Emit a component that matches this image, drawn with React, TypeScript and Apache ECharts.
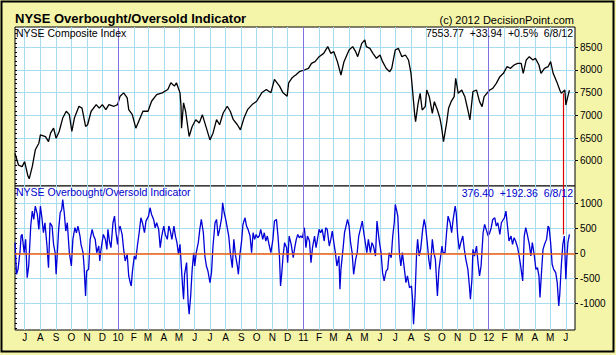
import React, { useEffect, useRef } from "react";
import * as echarts from "echarts";

const priceData: [string, number][] = [
  ["2009-06-12", 6160], ["2009-06-19", 5900], ["2009-06-26", 5870], ["2009-07-01", 5980], ["2009-07-07", 5680],
  ["2009-07-10", 5600], ["2009-07-16", 5870], ["2009-07-22", 6240], ["2009-07-29", 6385], ["2009-08-01", 6570],
  ["2009-08-11", 6530], ["2009-08-17", 6420], ["2009-08-21", 6607], ["2009-08-27", 6718], ["2009-09-01", 6495],
  ["2009-09-07", 6644], ["2009-09-14", 6940], ["2009-09-21", 7090], ["2009-09-27", 7015], ["2009-10-02", 6644],
  ["2009-10-07", 6940], ["2009-10-16", 7200], ["2009-10-22", 7160], ["2009-10-29", 6755], ["2009-11-02", 6792],
  ["2009-11-09", 7090], ["2009-11-19", 7237], ["2009-11-25", 7160], ["2009-12-01", 7237], ["2009-12-08", 7126],
  ["2009-12-14", 7237], ["2009-12-24", 7200], ["2009-12-31", 7237], ["2010-01-05", 7422], ["2010-01-12", 7496],
  ["2010-01-19", 7385], ["2010-01-22", 7126], ["2010-01-29", 7015], ["2010-02-05", 6718], ["2010-02-12", 6904],
  ["2010-02-19", 7090], ["2010-03-01", 7090], ["2010-03-08", 7311], ["2010-03-18", 7459], ["2010-03-29", 7496],
  ["2010-04-09", 7570], ["2010-04-15", 7718], ["2010-04-22", 7644], ["2010-04-26", 7718], ["2010-05-03", 7496],
  ["2010-05-05", 7200], ["2010-05-06", 6718], ["2010-05-10", 7274], ["2010-05-14", 7090], ["2010-05-21", 6533],
  ["2010-05-27", 6755], ["2010-06-03", 6904], ["2010-06-10", 6830], ["2010-06-16", 7015], ["2010-06-24", 6718],
  ["2010-07-01", 6459], ["2010-07-07", 6607], ["2010-07-14", 6904], ["2010-07-20", 6792], ["2010-07-27", 7052],
  ["2010-08-04", 7200], ["2010-08-10", 7090], ["2010-08-16", 6904], ["2010-08-24", 6792], ["2010-08-30", 6681],
  ["2010-09-06", 6940], ["2010-09-13", 7126], ["2010-09-22", 7237], ["2010-10-01", 7311], ["2010-10-11", 7496],
  ["2010-10-20", 7570], ["2010-10-29", 7496], ["2010-11-05", 7793], ["2010-11-15", 7644], ["2010-11-22", 7496],
  ["2010-11-30", 7422], ["2010-12-03", 7718], ["2010-12-10", 7830], ["2010-12-14", 7867], ["2010-12-17", 7890],
  ["2010-12-24", 7963], ["2011-01-03", 8000], ["2011-01-11", 8037], ["2011-01-17", 8147], ["2011-01-24", 8184],
  ["2011-02-01", 8294], ["2011-02-10", 8367], ["2011-02-18", 8515], ["2011-02-24", 8367], ["2011-03-02", 8404],
  ["2011-03-09", 8184], ["2011-03-16", 7890], ["2011-03-22", 8184], ["2011-04-01", 8441], ["2011-04-08", 8515],
  ["2011-04-14", 8404], ["2011-04-18", 8294], ["2011-04-26", 8588], ["2011-05-02", 8661], ["2011-05-05", 8515],
  ["2011-05-12", 8478], ["2011-05-18", 8367], ["2011-05-25", 8257], ["2011-06-01", 8331], ["2011-06-06", 8184],
  ["2011-06-13", 8037], ["2011-06-20", 7963], ["2011-06-24", 8037], ["2011-07-01", 8441], ["2011-07-07", 8478],
  ["2011-07-14", 8294], ["2011-07-21", 8331], ["2011-07-27", 8221], ["2011-08-01", 7926], ["2011-08-04", 7559],
  ["2011-08-08", 7044], ["2011-08-10", 6861], ["2011-08-15", 7265], ["2011-08-19", 7486], ["2011-08-23", 7118],
  ["2011-08-29", 7192], ["2011-09-01", 7559], ["2011-09-06", 7412], ["2011-09-12", 7044], ["2011-09-16", 7302],
  ["2011-09-22", 7118], ["2011-09-27", 6934], ["2011-09-30", 6750], ["2011-10-04", 6420], ["2011-10-10", 6824],
  ["2011-10-14", 7155], ["2011-10-19", 7302], ["2011-10-25", 7412], ["2011-10-28", 7816], ["2011-11-02", 7486],
  ["2011-11-09", 7559], ["2011-11-15", 7412], ["2011-11-21", 7118], ["2011-11-25", 6898], ["2011-12-01", 7522],
  ["2011-12-08", 7559], ["2011-12-14", 7302], ["2011-12-19", 7192], ["2011-12-23", 7412], ["2012-01-03", 7559],
  ["2012-01-09", 7596], ["2012-01-16", 7706], ["2012-01-23", 7853], ["2012-01-30", 7926], ["2012-02-06", 8073],
  ["2012-02-13", 8037], ["2012-02-20", 8110], ["2012-02-27", 8147], ["2012-03-05", 8147], ["2012-03-09", 7926],
  ["2012-03-15", 8221], ["2012-03-21", 8294], ["2012-03-28", 8221], ["2012-04-02", 8257], ["2012-04-09", 8110],
  ["2012-04-13", 7926], ["2012-04-20", 8037], ["2012-04-27", 8073], ["2012-05-02", 8184], ["2012-05-07", 7926],
  ["2012-05-14", 7743], ["2012-05-20", 7559], ["2012-05-23", 7486], ["2012-05-30", 7559], ["2012-06-01", 7228],
  ["2012-06-04", 7375], ["2012-06-08", 7554],
];

const indicatorData: [string, number][] = [
  ["2009-06-12", 212], ["2009-06-15", -417], ["2009-06-18", -318], ["2009-06-22", 46], ["2009-06-24", 344],
  ["2009-06-26", 377], ["2009-06-30", 13], ["2009-07-03", 278], ["2009-07-06", -483], ["2009-07-09", -252],
  ["2009-07-13", 543], ["2009-07-16", 841], ["2009-07-19", 675], ["2009-07-22", 940], ["2009-07-26", 775],
  ["2009-07-29", 477], ["2009-08-01", 940], ["2009-08-04", 708], ["2009-08-07", 410], ["2009-08-10", 609],
  ["2009-08-14", 146], ["2009-08-17", -285], ["2009-08-20", 609], ["2009-08-24", 543], ["2009-08-27", 179],
  ["2009-08-30", 13], ["2009-09-01", -417], ["2009-09-06", 477], ["2009-09-09", 808], ["2009-09-12", 874],
  ["2009-09-14", 1072], ["2009-09-17", 808], ["2009-09-20", 444], ["2009-09-23", 609], ["2009-09-27", 13],
  ["2009-10-01", -252], ["2009-10-04", 278], ["2009-10-08", 510], ["2009-10-11", 410], ["2009-10-14", 543],
  ["2009-10-18", 344], ["2009-10-20", 179], ["2009-10-24", 13], ["2009-10-26", -252], ["2009-10-28", -649],
  ["2009-10-29", -847], ["2009-10-31", -351], ["2009-11-04", -318], ["2009-11-07", 278], ["2009-11-11", 477],
  ["2009-11-14", 344], ["2009-11-17", 278], ["2009-11-20", 13], ["2009-11-24", 146], ["2009-11-26", -152],
  ["2009-11-28", 46], ["2009-11-30", 179], ["2009-12-03", 377], ["2009-12-07", 278], ["2009-12-10", 79],
  ["2009-12-12", 477], ["2009-12-15", 245], ["2009-12-18", 113], ["2009-12-22", 609], ["2009-12-25", 741],
  ["2009-12-28", 410], ["2009-12-31", 179], ["2010-01-03", 477], ["2010-01-05", 543], ["2010-01-09", 377],
  ["2010-01-12", 79], ["2010-01-15", -152], ["2010-01-19", -20], ["2010-01-22", -450], ["2010-01-25", -583],
  ["2010-01-27", -649], ["2010-01-29", -384], ["2010-02-02", -53], ["2010-02-05", -119], ["2010-02-08", 146],
  ["2010-02-12", 444], ["2010-02-15", 708], ["2010-02-18", 609], ["2010-02-22", 410], ["2010-02-25", 642],
  ["2010-03-02", 741], ["2010-03-05", 907], ["2010-03-08", 775], ["2010-03-12", 675], ["2010-03-15", 510],
  ["2010-03-18", 609], ["2010-03-22", 477], ["2010-03-25", 113], ["2010-03-28", 344], ["2010-04-01", 543],
  ["2010-04-04", 377], ["2010-04-08", 278], ["2010-04-11", 543], ["2010-04-14", 444], ["2010-04-17", 278],
  ["2010-04-21", 543], ["2010-04-24", 344], ["2010-04-27", 212], ["2010-04-30", -20], ["2010-05-03", 179],
  ["2010-05-06", -318], ["2010-05-08", -649], ["2010-05-10", -914], ["2010-05-12", -417], ["2010-05-16", -185],
  ["2010-05-19", -980], ["2010-05-21", -1211], ["2010-05-24", -847], ["2010-05-27", -318], ["2010-05-30", 13],
  ["2010-06-01", -252], ["2010-06-04", 13], ["2010-06-08", 212], ["2010-06-11", 477], ["2010-06-14", 675],
  ["2010-06-18", 410], ["2010-06-21", -53], ["2010-06-24", -252], ["2010-06-27", -351], ["2010-07-01", -583],
  ["2010-07-04", -384], ["2010-07-07", 146], ["2010-07-11", 609], ["2010-07-14", 675], ["2010-07-17", 344],
  ["2010-07-20", 477], ["2010-07-24", 708], ["2010-07-26", 1006], ["2010-07-29", 808], ["2010-08-01", 675],
  ["2010-08-04", 510], ["2010-08-07", 344], ["2010-08-10", 13], ["2010-08-14", -285], ["2010-08-17", 278],
  ["2010-08-20", -20], ["2010-08-24", -252], ["2010-08-26", -417], ["2010-08-29", -20], ["2010-09-01", 212],
  ["2010-09-04", 576], ["2010-09-08", 708], ["2010-09-11", 543], ["2010-09-14", 477], ["2010-09-18", 344],
  ["2010-09-21", 13], ["2010-09-24", 410], ["2010-09-27", 278], ["2010-09-30", 377], ["2010-10-03", 311],
  ["2010-10-06", 344], ["2010-10-09", 477], ["2010-10-13", 278], ["2010-10-16", 410], ["2010-10-19", 245],
  ["2010-10-22", 344], ["2010-10-26", 146], ["2010-10-29", 13], ["2010-11-02", 278], ["2010-11-05", 642],
  ["2010-11-09", 675], ["2010-11-12", 344], ["2010-11-15", -86], ["2010-11-17", -649], ["2010-11-19", -450],
  ["2010-11-22", -53], ["2010-11-25", 212], ["2010-11-29", 113], ["2010-12-01", -185], ["2010-12-04", 344],
  ["2010-12-08", 179], ["2010-12-12", -86], ["2010-12-15", 113], ["2010-12-18", 278], ["2010-12-21", 377],
  ["2010-12-24", 311], ["2010-12-27", 344], ["2010-12-30", 311], ["2011-01-03", 510], ["2011-01-06", 113],
  ["2011-01-09", 344], ["2011-01-13", 245], ["2011-01-16", -185], ["2011-01-19", 113], ["2011-01-23", 344],
  ["2011-01-26", 113], ["2011-02-01", 477], ["2011-02-04", 410], ["2011-02-07", 477], ["2011-02-11", 245],
  ["2011-02-14", 510], ["2011-02-17", 477], ["2011-02-21", 146], ["2011-02-24", 278], ["2011-02-27", 444],
  ["2011-03-02", 212], ["2011-03-05", 13], ["2011-03-08", -252], ["2011-03-12", -53], ["2011-03-14", -715],
  ["2011-03-16", -318], ["2011-03-20", 79], ["2011-03-23", 410], ["2011-03-26", 543], ["2011-03-29", 675],
  ["2011-04-01", 543], ["2011-04-04", 212], ["2011-04-07", 13], ["2011-04-10", -417], ["2011-04-14", -119],
  ["2011-04-17", 13], ["2011-04-20", 344], ["2011-04-24", 510], ["2011-04-27", 642], ["2011-04-30", 410],
  ["2011-05-03", 212], ["2011-05-06", 13], ["2011-05-09", 278], ["2011-05-13", 13], ["2011-05-16", 212],
  ["2011-05-19", 146], ["2011-05-23", -53], ["2011-05-26", 642], ["2011-05-30", 278], ["2011-06-03", 13],
  ["2011-06-06", -384], ["2011-06-09", -549], ["2011-06-13", -351], ["2011-06-16", -318], ["2011-06-19", 13],
  ["2011-06-23", -86], ["2011-06-26", 344], ["2011-06-29", 609], ["2011-07-01", 973], ["2011-07-04", 841],
  ["2011-07-06", 741], ["2011-07-09", 13], ["2011-07-12", -252], ["2011-07-15", 13], ["2011-07-19", -318],
  ["2011-07-22", -583], ["2011-07-25", -450], ["2011-07-29", -682], ["2011-08-02", -649], ["2011-08-04", -914],
  ["2011-08-06", -1410], ["2011-08-09", -847], ["2011-08-12", 13], ["2011-08-14", 278], ["2011-08-17", -53],
  ["2011-08-20", 79], ["2011-08-24", 477], ["2011-08-27", 675], ["2011-08-30", 510], ["2011-09-02", 212],
  ["2011-09-05", -119], ["2011-09-08", -318], ["2011-09-12", 278], ["2011-09-15", 13], ["2011-09-18", -119],
  ["2011-09-22", -847], ["2011-09-25", -318], ["2011-09-28", -86], ["2011-10-01", 146], ["2011-10-03", 13],
  ["2011-10-07", 13], ["2011-10-10", 410], ["2011-10-13", 741], ["2011-10-17", 609], ["2011-10-20", 410],
  ["2011-10-23", 675], ["2011-10-27", 940], ["2011-10-29", 808], ["2011-11-01", 344], ["2011-11-04", 79],
  ["2011-11-07", 212], ["2011-11-11", 344], ["2011-11-14", 79], ["2011-11-17", -119], ["2011-11-21", -318],
  ["2011-11-24", -649], ["2011-11-26", -914], ["2011-11-29", -516], ["2011-12-01", 79], ["2011-12-04", -53],
  ["2011-12-08", 146], ["2011-12-11", -185], ["2011-12-14", -450], ["2011-12-17", -252], ["2011-12-21", 410],
  ["2011-12-24", 576], ["2011-12-27", 477], ["2011-12-31", 344], ["2012-01-03", 410], ["2012-01-06", 510],
  ["2012-01-09", 675], ["2012-01-13", 708], ["2012-01-16", 543], ["2012-01-19", 609], ["2012-01-23", 377],
  ["2012-01-26", 609], ["2012-02-01", 708], ["2012-02-04", 841], ["2012-02-07", 543], ["2012-02-10", 245],
  ["2012-02-14", 344], ["2012-02-17", 179], ["2012-02-20", 311], ["2012-02-23", 245], ["2012-02-27", 113],
  ["2012-03-01", -53], ["2012-03-04", -252], ["2012-03-08", -549], ["2012-03-11", 344], ["2012-03-14", 510],
  ["2012-03-17", 377], ["2012-03-21", 179], ["2012-03-24", -53], ["2012-03-27", 212], ["2012-03-31", -53],
  ["2012-04-03", -318], ["2012-04-06", -285], ["2012-04-09", -450], ["2012-04-11", -880], ["2012-04-14", -384],
  ["2012-04-17", 79], ["2012-04-20", 179], ["2012-04-24", 278], ["2012-04-27", 543], ["2012-04-29", 510],
  ["2012-05-02", 212], ["2012-05-05", -218], ["2012-05-08", -318], ["2012-05-12", -384], ["2012-05-15", -583],
  ["2012-05-18", -1046], ["2012-05-20", -814], ["2012-05-23", -252], ["2012-05-26", 179], ["2012-05-29", 344],
  ["2012-06-01", -516], ["2012-06-03", -86], ["2012-06-05", 212], ["2012-06-08", 376],
];

const monthTicks: string[] = [
  "2009-07-01", "2009-08-01", "2009-09-01", "2009-10-01", "2009-11-01", "2009-12-01",
  "2010-01-01", "2010-02-01", "2010-03-01", "2010-04-01", "2010-05-01", "2010-06-01",
  "2010-07-01", "2010-08-01", "2010-09-01", "2010-10-01", "2010-11-01", "2010-12-01",
  "2011-01-01", "2011-02-01", "2011-03-01", "2011-04-01", "2011-05-01", "2011-06-01",
  "2011-07-01", "2011-08-01", "2011-09-01", "2011-10-01", "2011-11-01", "2011-12-01",
  "2012-01-01", "2012-02-01", "2012-03-01", "2012-04-01", "2012-05-01", "2012-06-01",
];
const monthLabels: string[] = [
  "J", "A", "S", "O", "N", "D",
  "10", "F", "M", "A", "M", "J", "J", "A", "S", "O", "N", "D",
  "11", "F", "M", "A", "M", "J", "J", "A", "S", "O", "N", "D",
  "12", "F", "M", "A", "M", "J",
];
const yearStarts: string[] = ["2010-01-01", "2011-01-01", "2012-01-01"];
const priceTicks: number[] = [6000, 6500, 7000, 7500, 8000, 8500];
const indicatorTicks: number[] = [-1000, -500, 0, 500, 1000];

const titleText = "NYSE Overbought/Oversold Indicator";
const copyrightText = "(c) 2012 DecisionPoint.com";
const upperLabel = "NYSE Composite Index";
const upperReadout = "7553.77\u00A0\u00A0+33.94\u00A0\u00A0+0.5%\u00A0\u00A06/8/12";
const lowerLabel = "NYSE Overbought/Oversold Indicator";
const lowerReadout = "376.40\u00A0\u00A0+192.36\u00A0\u00A06/8/12";

const redLineDate = "2012-05-27";
const redLineUpperTop = 7486;
const redLineLowerBottom = 376;

const xMin = "2009-06-12";
const xMax = "2012-06-19";
const priceMin = 5442;
const priceMax = 8948;
const indMin = -1525;
const indMax = 1340;

const FONT = '"Liberation Sans", Arial, sans-serif';
const GRID_BLUE = "#A6DCF0";
const YEAR_PURPLE = "#8070E0";

const ts = (s: string) => new Date(s + "T00:00:00").getTime();

function range(a: number, b: number, step: number): number[] {
  const out: number[] = [];
  for (let v = a; v <= b; v += step) out.push(v);
  return out;
}

export default function App() {
  const ref = useRef<HTMLDivElement>(null);
  useEffect(() => {
    const chart = echarts.init(ref.current!, null, { renderer: "svg" });
    const monthTs = monthTicks.map(ts);
    const fmt = (v: number) => {
      let best = -1;
      let bd = Infinity;
      monthTs.forEach((t, i) => {
        const d = Math.abs(t - v);
        if (d < bd) { bd = d; best = i; }
      });
      return best >= 0 && bd < 86400000 * 2 ? monthLabels[best] : "";
    };
    const plain = (v: number) => String(Math.round(v));
    const upperMinor = range(5500, 8900, 100);
    const lowerMinor = range(-1500, 1300, 100);

    const yearLines = yearStarts.map((d) => ({
      xAxis: ts(d),
      lineStyle: { color: YEAR_PURPLE, width: 1, type: "solid" },
    }));

    const xCommon = (gridIndex: number, showLabels: boolean) => ({
      type: "value",
      gridIndex,
      min: ts(xMin),
      max: ts(xMax),
      axisLine: { show: false },
      axisTick: { show: false, customValues: monthTs },
      splitLine: { show: true, lineStyle: { color: GRID_BLUE, width: 1 } },
      axisLabel: {
        show: showLabels,
        customValues: monthTs,
        formatter: fmt,
        color: "#000",
        fontFamily: FONT,
        fontSize: 10,
        margin: 2,
        hideOverlap: false,
      },
    });

    const option: any = {
      animation: false,
      backgroundColor: "#F5F5AA",
      grid: [
        { left: 15, top: 27, width: 560, height: 159, show: true, backgroundColor: "#fff", borderColor: "#000", borderWidth: 1, containLabel: false, outerBoundsMode: "none" },
        { left: 15, top: 186, width: 560, height: 144, show: true, backgroundColor: "#fff", borderColor: "#000", borderWidth: 1, containLabel: false, outerBoundsMode: "none" },
      ],
      xAxis: [xCommon(0, false), xCommon(1, true)],
      yAxis: [
        {
          type: "value", gridIndex: 0, position: "right", min: priceMin, max: priceMax,
          axisLine: { show: false },
          axisTick: { show: true, length: 3, customValues: priceTicks, lineStyle: { color: "#000" } },
          axisLabel: { customValues: priceTicks, formatter: plain, color: "#000", fontFamily: FONT, fontSize: 10, margin: 5 },
          splitLine: { show: true, lineStyle: { color: GRID_BLUE, width: 1 } },
        },
        {
          type: "value", gridIndex: 0, position: "left", min: priceMin, max: priceMax,
          axisLine: { show: false },
          axisTick: { show: true, inside: true, length: 2, customValues: upperMinor, lineStyle: { color: "#000" } },
          axisLabel: { show: false },
          splitLine: { show: false },
        },
        {
          type: "value", gridIndex: 1, position: "right", min: indMin, max: indMax,
          axisLine: { show: false },
          axisTick: { show: true, length: 3, customValues: indicatorTicks, lineStyle: { color: "#000" } },
          axisLabel: { customValues: indicatorTicks, formatter: plain, color: "#000", fontFamily: FONT, fontSize: 10, margin: 5 },
          splitLine: { show: true, lineStyle: { color: GRID_BLUE, width: 1 } },
        },
        {
          type: "value", gridIndex: 1, position: "left", min: indMin, max: indMax,
          axisLine: { show: false },
          axisTick: { show: true, inside: true, length: 2, customValues: lowerMinor, lineStyle: { color: "#000" } },
          axisLabel: { show: false },
          splitLine: { show: false },
        },
      ],
      series: [
        {
          type: "line",
          xAxisIndex: 0,
          yAxisIndex: 0,
          data: priceData.map(([d, v]) => [ts(d), v]),
          showSymbol: false,
          symbol: "none",
          lineStyle: { color: "#000", width: 1.3 },
          z: 3,
          markLine: {
            silent: true,
            symbol: ["none", "none"],
            label: { show: false },
            data: [
              ...yearLines,
              [
                { coord: [ts(redLineDate), redLineUpperTop], lineStyle: { color: "#E00000", width: 1.2, type: "solid" } },
                { coord: [ts(redLineDate), priceMin] },
              ],
            ],
          },
        },
        {
          type: "line",
          xAxisIndex: 1,
          yAxisIndex: 2,
          data: indicatorData.map(([d, v]) => [ts(d), v]),
          showSymbol: false,
          symbol: "none",
          lineStyle: { color: "#0000D8", width: 1.3 },
          z: 3,
          markLine: {
            silent: true,
            symbol: ["none", "none"],
            label: { show: false },
            data: [
              ...yearLines,
              { yAxis: 0, lineStyle: { color: "#F06010", width: 1.5, type: "solid" } },
              [
                { coord: [ts(redLineDate), indMax], lineStyle: { color: "#E00000", width: 1.2, type: "solid" } },
                { coord: [ts(redLineDate), redLineLowerBottom] },
              ],
            ],
          },
        },
      ],
      graphic: [
        { type: "rect", shape: { x: 1.5, y: 1.5, width: 612, height: 350 }, style: { fill: "none", stroke: "#000", lineWidth: 2 }, z: 100 },
        { type: "text", x: 15, y: 18.5, style: { text: titleText, font: `bold 13px ${FONT}`, fill: "#000", align: "left", verticalAlign: "middle" }, z: 100 },
        { type: "text", x: 574, y: 19.5, style: { text: copyrightText, font: `11px ${FONT}`, fill: "#000", align: "right", verticalAlign: "middle" }, z: 100 },
        { type: "text", x: 16, y: 32.5, style: { text: upperLabel, font: `10.5px ${FONT}`, fill: "#000", align: "left", verticalAlign: "middle" }, z: 100 },
        { type: "text", x: 573, y: 33, style: { text: upperReadout, font: `10.5px ${FONT}`, fill: "#000", align: "right", verticalAlign: "middle" }, z: 100 },
        { type: "text", x: 16, y: 192, style: { text: lowerLabel, font: `10.5px ${FONT}`, fill: "#0000CC", align: "left", verticalAlign: "middle" }, z: 100 },
        { type: "text", x: 573, y: 193, style: { text: lowerReadout, font: `10.5px ${FONT}`, fill: "#0000CC", align: "right", verticalAlign: "middle" }, z: 100 },
      ],
    };
    chart.setOption(option);
    return () => chart.dispose();
  }, []);
  return <div ref={ref} style={{ position: "absolute", left: 0, top: 0, width: 616, height: 355 }} />;
}
